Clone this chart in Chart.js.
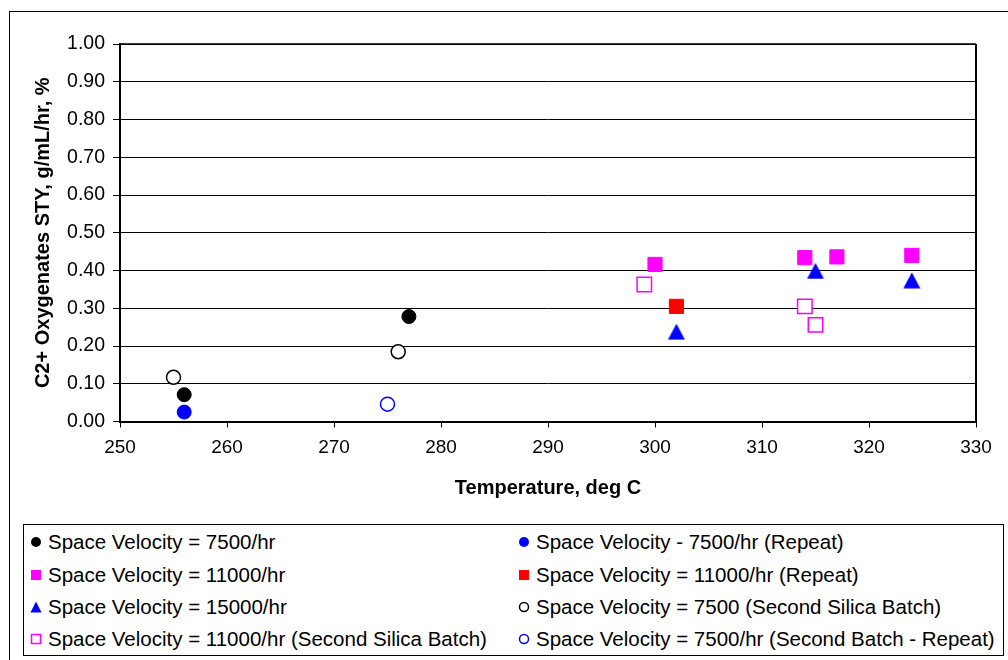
<!DOCTYPE html>
<html>
<head>
<meta charset="utf-8">
<title>C2+ Oxygenates STY vs Temperature</title>
<script src="https://cdn.jsdelivr.net/npm/chart.js@4.4.1/dist/chart.umd.min.js"></script>
<style>
  html, body { margin: 0; padding: 0; overflow: hidden; background: #fff; }
  body { width: 1008px; height: 660px; position: relative; font-family: 'Liberation Sans', Arial, sans-serif; }
  #frame { position: absolute; left: 9px; top: 11px; width: 1100px; height: 700px; border: 1.5px solid #000; }
  #myChart { position: absolute; left: 0; top: 0; }
  #legend { position: absolute; left: 23px; top: 524px; width: 979px; height: 130px; border: 1px solid #000; background: #fff; }
  .legend-text { position: absolute; font-size: 20.5px; line-height: 24px; white-space: nowrap; color: #000; }
  .legend-mark { position: absolute; }
</style>
</head>
<body>
<div id="frame"></div>
<canvas id="myChart" width="1008" height="520"></canvas>
<div id="legend"></div>
<script>
'use strict';

// ***** DATA *****
let xMin = 250;
let xMax = 330;
let xStep = 10;
let yMin = 0;
let yMax = 1;
let yStep = 0.1;

let xTitle = 'Temperature, deg C';
let yTitle = 'C2+ Oxygenates STY, g/mL/hr, %';

let seriesLabels = [
  'Space Velocity = 7500/hr',
  'Space Velocity - 7500/hr (Repeat)',
  'Space Velocity = 11000/hr',
  'Space Velocity = 11000/hr (Repeat)',
  'Space Velocity = 15000/hr',
  'Space Velocity = 7500 (Second Silica Batch)',
  'Space Velocity = 11000/hr (Second Silica Batch)',
  'Space Velocity = 7500/hr (Second Batch - Repeat)'
];

let sv7500Temp = [256, 277];
let sv7500Sty = [0.071, 0.278];

let sv7500RepeatTemp = [256];
let sv7500RepeatSty = [0.025];

let sv11000Temp = [300, 314, 317, 324];
let sv11000Sty = [0.416, 0.434, 0.436, 0.44];

let sv11000RepeatTemp = [302];
let sv11000RepeatSty = [0.305];

let sv15000Temp = [302, 315, 324];
let sv15000Sty = [0.238, 0.399, 0.374];

let sv7500SilicaTemp = [255, 276];
let sv7500SilicaSty = [0.117, 0.185];

let sv11000SilicaTemp = [299, 314, 315];
let sv11000SilicaSty = [0.363, 0.305, 0.256];

let sv7500BatchRepeatTemp = [275];
let sv7500BatchRepeatSty = [0.046];

// ***** STYLES *****
// shape, colour, filled - same order as seriesLabels
let seriesStyles = [
  { shape: 'circle', color: '#000000', filled: true },
  { shape: 'circle', color: '#0000FF', filled: true },
  { shape: 'rect', color: '#FF00FF', filled: true },
  { shape: 'rect', color: '#FF0000', filled: true },
  { shape: 'triangle', color: '#0000FF', filled: true },
  { shape: 'circle', color: '#000000', filled: false },
  { shape: 'rect', color: '#FF00FF', filled: false },
  { shape: 'circle', color: '#0000FF', filled: false }
];

// ***** HELPER FUNCTIONS *****
function toPoints(xs, ys){
  let pts = [];
  for(let i = 0; i < xs.length; i++){
    pts.push({ x: xs[i], y: ys[i] });
  }
  return pts;
}

// draws a marker into a 2d context, centred on cx, cy
function drawMarker(ctx, style, cx, cy, size){
  let half = size / 2;
  ctx.beginPath();
  if(style.shape === 'circle'){
    ctx.arc(cx, cy, half, 0, Math.PI * 2);
  } else if(style.shape === 'rect'){
    ctx.rect(cx - half, cy - half, size, size);
  } else {
    ctx.moveTo(cx, cy - half);
    ctx.lineTo(cx + half, cy + half);
    ctx.lineTo(cx - half, cy + half);
    ctx.closePath();
  }
  if(style.filled){
    ctx.fillStyle = style.color;
    ctx.fill();
  } else {
    ctx.fillStyle = '#fff';
    ctx.fill();
    ctx.lineWidth = 1.5;
    ctx.strokeStyle = style.color;
    ctx.stroke();
  }
}

// Excel style triangle, centred on its box
function makeTriangle(style){
  let c = document.createElement('canvas');
  c.width = 18;
  c.height = 17;
  let ctx = c.getContext('2d');
  ctx.beginPath();
  ctx.moveTo(9, 0.5);
  ctx.lineTo(17.5, 16.5);
  ctx.lineTo(0.5, 16.5);
  ctx.closePath();
  ctx.fillStyle = style.color;
  ctx.fill();
  return c;
}

function makeDataset(i, xs, ys){
  let st = seriesStyles[i];
  let ds = {
    label: seriesLabels[i],
    data: toPoints(xs, ys),
    order: seriesLabels.length - i,
    showLine: false,
    pointStyle: st.shape,
    pointRadius: 7,
    borderColor: st.color,
    backgroundColor: st.filled ? st.color : '#ffffff',
    borderWidth: st.filled ? 1 : 1.5
  };
  if(st.shape === 'rect'){
    ds.pointRadius = st.filled ? 10 : 10.2;
  }
  if(st.shape === 'triangle'){
    ds.pointStyle = makeTriangle(st);
  }
  return ds;
}

// ***** LEGEND *****
let legendCols = [35, 523];
let legendTextCols = [47, 535];
let legendRows = [17, 50, 82, 114];

function renderLegend(){
  let box = document.getElementById('legend');
  for(let i = 0; i < seriesLabels.length; i++){
    let col = i % 2;
    let row = Math.floor(i / 2);
    let cy = legendRows[row];

    let mark = document.createElement('canvas');
    mark.width = 14;
    mark.height = 14;
    mark.className = 'legend-mark';
    mark.style.left = (legendCols[col] - 23 - 7) + 'px';
    mark.style.top = (cy - 7) + 'px';
    let st = seriesStyles[i];
    drawMarker(mark.getContext('2d'), st, 7, 7, st.shape === 'triangle' ? 11 : (st.filled ? 10 : 9));
    box.appendChild(mark);

    let txt = document.createElement('div');
    txt.className = 'legend-text';
    txt.textContent = seriesLabels[i];
    txt.style.left = (legendTextCols[col] - 23) + 'px';
    txt.style.top = (cy - 12) + 'px';
    box.appendChild(txt);
  }
}

// ***** PLUGINS *****
let plotFrame = {
  id: 'plotFrame',
  afterDatasetsDraw(chart){
    let a = chart.chartArea;
    let ctx = chart.ctx;
    ctx.save();
    ctx.strokeStyle = '#000';
    ctx.lineWidth = 1.5;
    ctx.beginPath();
    ctx.moveTo(a.left, a.top);
    ctx.lineTo(a.right, a.top);
    ctx.stroke();
    ctx.lineWidth = 2;
    ctx.beginPath();
    ctx.moveTo(a.right, a.top);
    ctx.lineTo(a.right, a.bottom);
    ctx.stroke();
    ctx.restore();
  }
};

// ***** EXECUTABLE CODE *****
Chart.defaults.font.family = "'Liberation Sans', Arial, sans-serif";
Chart.defaults.color = '#000';

let datasets = [
  makeDataset(0, sv7500Temp, sv7500Sty),
  makeDataset(1, sv7500RepeatTemp, sv7500RepeatSty),
  makeDataset(2, sv11000Temp, sv11000Sty),
  makeDataset(3, sv11000RepeatTemp, sv11000RepeatSty),
  makeDataset(4, sv15000Temp, sv15000Sty),
  makeDataset(5, sv7500SilicaTemp, sv7500SilicaSty),
  makeDataset(6, sv11000SilicaTemp, sv11000SilicaSty),
  makeDataset(7, sv7500BatchRepeatTemp, sv7500BatchRepeatSty)
];

let chartObj = {
  type: 'scatter',
  data: { datasets: datasets },
  options: {
    responsive: false,
    animation: false,
    layout: { padding: { left: 0, top: 44, right: 32, bottom: 0 } },
    plugins: {
      legend: { display: false },
      tooltip: { enabled: false }
    },
    scales: {
      x: {
        type: 'linear',
        min: xMin,
        max: xMax,
        ticks: { stepSize: xStep, font: { size: 19 }, padding: 9, maxRotation: 0 },
        grid: { drawOnChartArea: false, drawTicks: true, tickLength: 6, color: '#000' },
        border: { color: '#000', width: 2 },
        title: { display: true, text: xTitle, font: { size: 20, weight: 'bold' }, padding: { top: 0, bottom: 20 } },
        afterFit: function(scale){ scale.height = 98.5; }
      },
      y: {
        type: 'linear',
        min: yMin,
        max: yMax,
        ticks: { stepSize: yStep, font: { size: 19.5 }, padding: 8, callback: function(v){ return v.toFixed(2); } },
        grid: { color: '#000', lineWidth: 1, tickLength: 7 },
        border: { color: '#000', width: 2 },
        title: { display: true, text: yTitle, font: { size: 20, weight: 'bold' }, padding: { top: 31.5, bottom: 0 } },
        afterFit: function(scale){ scale.width = 120; }
      }
    }
  },
  plugins: [plotFrame]
};

new Chart(document.getElementById('myChart'), chartObj);
renderLegend();
</script>
</body>
</html>
